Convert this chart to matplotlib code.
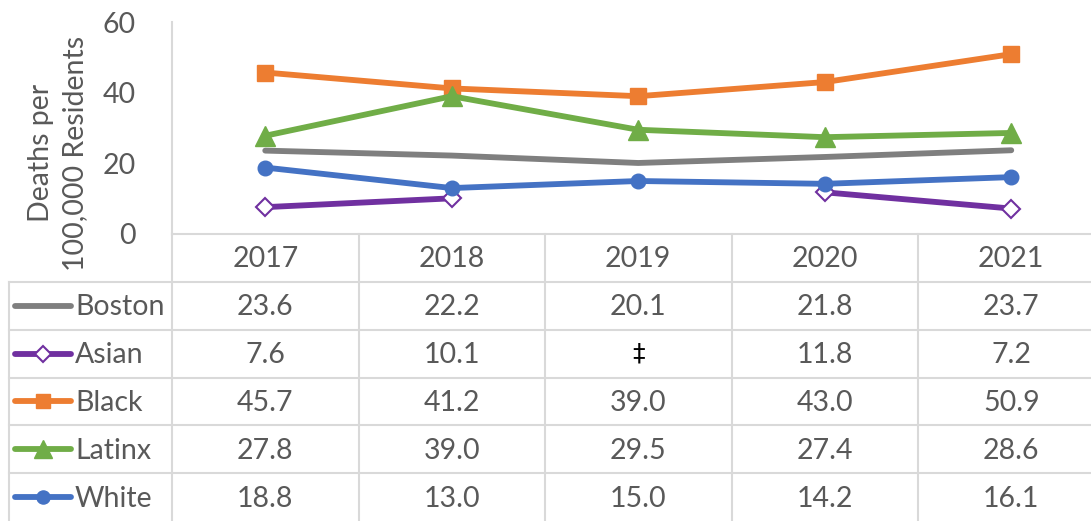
import numpy as np
import matplotlib
matplotlib.use("Agg")
import matplotlib.pyplot as plt

plt.rcParams['font.family'] = ['Lato', 'DejaVu Sans']

# data
years = ['2017', '2018', '2019', '2020', '2021']
series_names = ['Boston', 'Asian', 'Black', 'Latinx', 'White']
boston = [23.6, 22.2, 20.1, 21.8, 23.7]
asian = [7.6, 10.1, np.nan, 11.8, 7.2]
black = [45.7, 41.2, 39.0, 43.0, 50.9]
latinx = [27.8, 39.0, 29.5, 27.4, 28.6]
white = [18.8, 13.0, 15.0, 14.2, 16.1]
y_ticks = [0, 20, 40, 60]

TXT = '#595959'
GRID = '#D9D9D9'
styles = {
    'Boston': dict(color='#7F7F7F', marker=None),
    'Asian': dict(color='#7030A0', marker='D', ms=9.5, mfc='white', mec='#7030A0', mew=1.5),
    'Black': dict(color='#ED7D31', marker='s', ms=11),
    'Latinx': dict(color='#70AD47', marker='^', ms=15),
    'White': dict(color='#4472C4', marker='o', ms=10.5),
}
values = dict(zip(series_names, [boston, asian, black, latinx, white]))

W, H = 1091, 521
fig = plt.figure(figsize=(W / 100, H / 100), dpi=100)

# plot area in pixels
x0, col_w = 172, 186.5
y_top, y_zero = 22, 234
ax = fig.add_axes([x0 / W, 1 - y_zero / H, 5 * col_w / W, (y_zero - y_top) / H])
ax.set_xlim(-0.5, 4.5)
ax.set_ylim(0, 60)
x = np.arange(len(years))
for i, name in enumerate(series_names):
    st = styles[name]
    kw = dict(color=st['color'], lw=4.2, solid_capstyle='round', zorder=3 + i, clip_on=False)
    if st['marker']:
        kw.update(marker=st['marker'], ms=st['ms'],
                  mfc=st.get('mfc', st['color']), mec=st.get('mec', st['color']),
                  mew=st.get('mew', 1))
    ax.plot(x, values[name], **kw)

ax.set_yticks(y_ticks)
ax.set_yticklabels([str(t) for t in y_ticks], fontsize=20.5, color=TXT)
ax.tick_params(axis='y', length=0, pad=26)
ax.set_xticks([])
for s in ['top', 'right', 'bottom']:
    ax.spines[s].set_visible(False)
ax.spines['left'].set_color(GRID)
ax.spines['left'].set_linewidth(1.5)

fig.text(58 / W, 1 - 153 / H, 'Deaths per\n100,000 Residents', rotation=90,
         ha='center', va='center', fontsize=20.5, color=TXT, linespacing=1.4)

# data table
left_px = 9
leg_cols = (x0 - left_px) / col_w
n_rows = 6
row_h = (H - y_zero) / n_rows
tab = fig.add_axes([left_px / W, 0, (x0 - left_px + 5 * col_w) / W, (H - y_zero) / H])
tab.set_xlim(-0.5 - leg_cols, 4.5)
tab.set_ylim(n_rows, 0)
tab.axis('off')

lw_grid = 1.5
# horizontal lines
tab.plot([-0.5, 4.5], [0, 0], color=GRID, lw=lw_grid, clip_on=False)
for r in range(1, n_rows):
    tab.plot([-0.5 - leg_cols, 4.5], [r, r], color=GRID, lw=lw_grid, clip_on=False)
# vertical lines
tab.plot([-0.5 - leg_cols] * 2, [1, n_rows], color=GRID, lw=lw_grid, clip_on=False)
for c in range(6):
    tab.plot([c - 0.5] * 2, [0, n_rows], color=GRID, lw=lw_grid, clip_on=False)

for i, yr in enumerate(years):
    tab.text(i, 0.52, yr, ha='center', va='center', fontsize=20.5, color=TXT)

px = 1 / col_w
key_x0 = -0.5 - leg_cols + 6 * px
key_x1 = -0.5 - leg_cols + 62 * px
for r, name in enumerate(series_names, start=1):
    st = styles[name]
    yc = r + 0.5
    tab.plot([key_x0, key_x1], [yc, yc], color=st['color'], lw=4.2, solid_capstyle='round')
    if st['marker']:
        tab.plot([(key_x0 + key_x1) / 2], [yc], marker=st['marker'], ms=st['ms'] * 0.9,
                 mfc=st.get('mfc', st['color']), mec=st.get('mec', st['color']),
                 mew=st.get('mew', 1), ls='none')
    tab.text(key_x1 + 4 * px, yc + 0.03, name, ha='left', va='center', fontsize=20.5, color=TXT)
    for i, v in enumerate(values[name]):
        if np.isnan(v):
            tab.text(i, yc, '\u2021', ha='center', va='center', fontsize=18, color='black',
                     family=['DejaVu Sans'])
        else:
            tab.text(i, yc + 0.03, f'{v:.1f}', ha='center', va='center', fontsize=20.5, color=TXT)

fig.savefig('out.png', dpi=100)
